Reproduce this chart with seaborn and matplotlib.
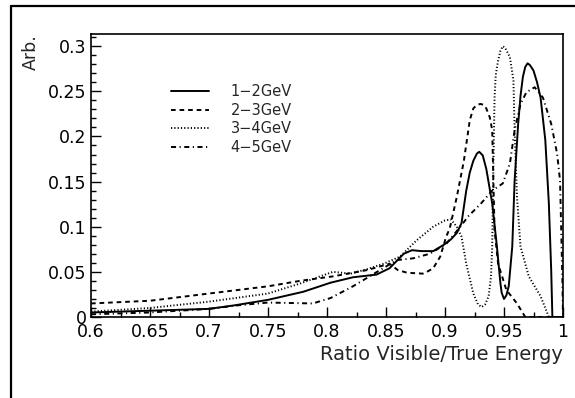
import matplotlib
matplotlib.use("Agg")
import matplotlib.pyplot as plt
from matplotlib.lines import Line2D
from matplotlib.ticker import MultipleLocator, FuncFormatter
import seaborn as sns
import pandas as pd

# ---- data ----
series_names = ["1\u22122GeV", "2\u22123GeV", "3\u22124GeV", "4\u22125GeV"]

x_12 = [0.600, 0.650, 0.700, 0.722, 0.750, 0.780, 0.803, 0.822, 0.842, 0.853, 0.865, 0.872,
        0.880, 0.890, 0.899, 0.905, 0.910, 0.914, 0.918, 0.921, 0.924, 0.927, 0.929, 0.932,
        0.935, 0.940, 0.944, 0.947, 0.948, 0.950, 0.952, 0.954, 0.957, 0.959, 0.962, 0.964,
        0.966, 0.968, 0.970, 0.972, 0.975, 0.978, 0.981, 0.985, 0.988, 0.990, 0.991, 1.000]
y_12 = [0.005, 0.007, 0.009, 0.013, 0.019, 0.028, 0.038, 0.044, 0.047, 0.054, 0.070, 0.074,
        0.073, 0.073, 0.080, 0.086, 0.093, 0.104, 0.140, 0.160, 0.173, 0.181, 0.183, 0.179,
        0.164, 0.126, 0.078, 0.037, 0.027, 0.020, 0.024, 0.034, 0.078, 0.151, 0.214, 0.245,
        0.266, 0.277, 0.281, 0.279, 0.273, 0.260, 0.243, 0.196, 0.126, 0.052, 0.000, 0.000]

x_23 = [0.600, 0.650, 0.700, 0.750, 0.777, 0.805, 0.834, 0.853, 0.860, 0.868, 0.882, 0.890,
        0.896, 0.901, 0.904, 0.910, 0.916, 0.921, 0.924, 0.927, 0.930, 0.933, 0.935, 0.938,
        0.940, 0.941, 0.942, 0.945, 0.952, 0.961, 0.968, 1.000]
y_23 = [0.015, 0.018, 0.026, 0.034, 0.040, 0.045, 0.052, 0.059, 0.052, 0.049, 0.048, 0.054,
        0.067, 0.089, 0.098, 0.133, 0.173, 0.218, 0.231, 0.235, 0.236, 0.235, 0.231, 0.221,
        0.207, 0.151, 0.096, 0.059, 0.030, 0.015, 0.000, 0.000]

x_34 = [0.600, 0.650, 0.700, 0.750, 0.777, 0.805, 0.820, 0.834, 0.848, 0.862, 0.876, 0.890,
        0.900, 0.905, 0.910, 0.914, 0.918, 0.924, 0.928, 0.931, 0.934, 0.937, 0.939, 0.940,
        0.941, 0.942, 0.943, 0.945, 0.947, 0.949, 0.951, 0.953, 0.955, 0.958, 0.959, 0.961,
        0.964, 0.971, 0.981, 0.988, 1.000]
y_34 = [0.006, 0.010, 0.017, 0.026, 0.037, 0.050, 0.048, 0.053, 0.059, 0.067, 0.085, 0.100,
        0.107, 0.108, 0.100, 0.089, 0.059, 0.026, 0.014, 0.011, 0.014, 0.023, 0.045, 0.078,
        0.170, 0.243, 0.268, 0.284, 0.295, 0.300, 0.298, 0.293, 0.288, 0.262, 0.207, 0.133,
        0.078, 0.045, 0.023, 0.000, 0.000]

x_45 = [0.600, 0.650, 0.700, 0.725, 0.750, 0.788, 0.803, 0.822, 0.845, 0.859, 0.873, 0.887,
        0.901, 0.913, 0.920, 0.930, 0.940, 0.949, 0.955, 0.959, 0.964, 0.969, 0.976, 0.983,
        0.990, 0.995, 0.9975, 0.9995, 1.000]
y_45 = [0.003, 0.005, 0.009, 0.013, 0.016, 0.015, 0.021, 0.034, 0.052, 0.063, 0.065, 0.070,
        0.081, 0.100, 0.112, 0.125, 0.140, 0.148, 0.170, 0.207, 0.236, 0.249, 0.2545, 0.243,
        0.214, 0.181, 0.151, 0.040, 0.000]

x_ticks = [0.6, 0.65, 0.7, 0.75, 0.8, 0.85, 0.9, 0.95, 1.0]
y_ticks = [0, 0.05, 0.1, 0.15, 0.2, 0.25, 0.3]

frames = []
for name, xs, ys in zip(series_names, [x_12, x_23, x_34, x_45], [y_12, y_23, y_34, y_45]):
    frames.append(pd.DataFrame({"x": xs, "y": ys, "series": name}))
df = pd.concat(frames, ignore_index=True)

# ---- figure ----
sns.set_style("white")
plt.rcParams["font.family"] = ["DejaVu Sans"]

W, H = 575, 398
fig = plt.figure(figsize=(W / 100, H / 100), dpi=100)
ax = fig.add_axes([91 / W, 1 - 317 / H, (563 - 91) / W, (317 - 34) / H])

dash_styles = ["", (2.4, 2.0), (0.6, 1.1), (2.6, 1.8, 0.6, 1.8)]
sns.lineplot(data=df, x="x", y="y", style="series", dashes=dash_styles, color="black",
             estimator=None, sort=False, units="series", lw=1.4, ax=ax, legend=True)

ax.set_xlim(0.6, 1.0)
ax.set_ylim(0, 0.3135)
ax.xaxis.set_minor_locator(MultipleLocator(0.025))
ax.yaxis.set_minor_locator(MultipleLocator(0.01))
ax.set_xticks(x_ticks)
ax.set_yticks(y_ticks)
fmt = FuncFormatter(lambda v, p: "%g" % round(v, 4))
ax.xaxis.set_major_formatter(fmt)
ax.yaxis.set_major_formatter(fmt)
ax.tick_params(which="major", direction="in", length=7.2, width=1.0, labelsize=12.5,
               bottom=True, left=True, top=False, right=False, colors="black")
ax.tick_params(which="minor", direction="in", length=3.6, width=1.0,
               bottom=True, left=True, top=False, right=False, colors="black")
ax.tick_params(axis="x", pad=4.5)
ax.tick_params(axis="y", pad=3)
for s in ax.spines.values():
    s.set_visible(True)
    s.set_color("black")
    s.set_linewidth(1.2)

ax.set_xlabel("")
ax.set_ylabel("")
ax.text(1.0, -0.134, "Ratio Visible/True Energy", transform=ax.transAxes,
        ha="right", va="center", fontsize=14)
ax.text(-0.127, 1.0, "Arb.", transform=ax.transAxes, rotation=90,
        ha="center", va="top", fontsize=12.5)

handles, labels = ax.get_legend_handles_labels()
ax.legend(handles, labels, loc="upper left", bbox_to_anchor=(171 / W, 1 - 84 / H),
          bbox_transform=fig.transFigure, frameon=False, fontsize=10.5, borderpad=0,
          borderaxespad=0, handlelength=2.6, handletextpad=1.5, labelspacing=0.25)

# outer canvas frame (left and top edges visible)
fig.add_artist(Line2D([11 / W, 11 / W], [-0.05, 1 - 6 / H], transform=fig.transFigure,
                      color="black", lw=1.6))
fig.add_artist(Line2D([11 / W, 1.05], [1 - 6 / H, 1 - 6 / H], transform=fig.transFigure,
                      color="black", lw=1.6))

fig.savefig("out.png", dpi=100)
